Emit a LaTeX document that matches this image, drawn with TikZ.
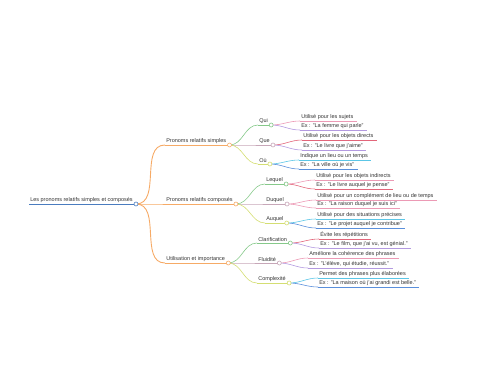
\documentclass[tikz,border=0pt]{standalone}
\usepackage{fontspec}
\setmainfont{Liberation Sans}
\definecolor{rootc}{HTML}{4A7CBF}
\definecolor{orangec}{HTML}{F6AA66}
\definecolor{greenc}{HTML}{86C98A}
\definecolor{mauvec}{HTML}{C7A7B8}
\definecolor{yellowc}{HTML}{D4DE72}
\definecolor{pinkc}{HTML}{EC9AB5}
\definecolor{redc}{HTML}{E2667A}
\definecolor{violetc}{HTML}{B39AE0}
\definecolor{cyanc}{HTML}{5CC6E6}
\definecolor{bluec}{HTML}{5A8FDB}
\begin{document}
\begin{tikzpicture}[x=1pt,y=-1pt,line width=0.6pt,
	txt/.style={inner sep=1pt,anchor=south west,text=black!80,font=\fontsize{5.5}{6}\selectfont},
	thick branch/.style={#1,line width=0.9pt}]
		\newcommand{\topic}[5]{\coordinate (#1-s) at (#2,#3); \node[txt] (#1-t) at (#1-s) {#5};
			\coordinate (#1) at ([xshift=2pt]#1-t.south east); \draw[#4] (#1-s)--(#1);}
		\newcommand{\link}[3]{\draw[#3] (#1) to[out=0,in=180] (#2-s);}
		\newcommand{\knob}[2]{\draw[#2,fill=white] (#1) circle (2);}
		
		\useasboundingbox (0,0) rectangle (480,384);
		
		\topic{root}{29}{204}{thick branch=rootc}{Les pronoms relatifs simples et composés}
		
		\topic{simp}{165}{145}{thick branch=orangec}{Pronoms relatifs simples}
		\topic{comp}{165}{204}{thick branch=orangec}{Pronoms relatifs composés}
		\topic{util}{165}{263}{thick branch=orangec}{Utilisation et importance}
		
		\topic{qui}   {258}{125}{greenc} {Qui}
		\topic{que}   {258}{145}{mauvec} {Que}
		\topic{ou}    {258}{164}{yellowc}{Où}
		\topic{lequel}{265}{184}{greenc} {Lequel}
		\topic{duquel}{265}{204}{mauvec} {Duquel}
		\topic{auquel}{265}{223}{yellowc}{Auquel}
		\topic{clar}  {257}{243}{greenc} {Clarification}
		\topic{flu}   {257}{263}{mauvec} {Fluidité}
		\topic{cpx}   {257}{283}{yellowc}{Complexité}
		
		\topic{qui-a}   {300}{121}{pinkc}  {Utilisé pour les sujets}
		\topic{qui-b}   {300}{130}{violetc}{Ex : "La femme qui parle"}
		\topic{que-a}   {302}{140}{redc}   {Utilisé pour les objets directs}
		\topic{que-b}   {302}{150}{violetc}{Ex : "Le livre que j'aime"}
		\topic{ou-a}    {299}{160}{cyanc}  {Indique un lieu ou un temps}
		\topic{ou-b}    {299}{169}{bluec}  {Ex : "La ville où je vis"}
		\topic{lequel-a}{315}{180}{pinkc}  {Utilisé pour les objets indirects}
		\topic{lequel-b}{315}{189}{redc}   {Ex : "Le livre auquel je pense"}
		\topic{duquel-a}{316}{200}{pinkc}  {Utilisé pour un complément de lieu ou de temps}
		\topic{duquel-b}{316}{208}{pinkc}  {Ex : "La raison duquel je suis ici"}
		\topic{auquel-a}{316}{219}{cyanc}  {Utilisé pour des situations précises}
		\topic{auquel-b}{316}{228}{bluec}  {Ex : "Le projet auquel je contribue"}
		\topic{clar-a}  {319}{239}{redc}   {Évite les répétitions}
		\topic{clar-b}  {319}{248}{violetc}{Ex : "Le film, que j'ai vu, est génial."}
		\topic{flu-a}   {308}{258}{pinkc}  {Améliore la cohérence des phrases}
		\topic{flu-b}   {308}{268}{violetc}{Ex : "L'élève, qui étudie, réussit."}
		\topic{cpx-a}   {318}{278}{cyanc}  {Permet des phrases plus élaborées}
		\topic{cpx-b}   {318}{287}{bluec}  {Ex : "La maison où j'ai grandi est belle."}
		
		\link{root}{simp}{thick branch=orangec} \link{root}{comp}{thick branch=orangec} \link{root}{util}{thick branch=orangec}
		
		\link{simp}{qui}{greenc} \link{simp}{que}{mauvec} \link{simp}{ou}{yellowc}
		\link{comp}{lequel}{greenc} \link{comp}{duquel}{mauvec} \link{comp}{auquel}{yellowc}
		\link{util}{clar}{greenc} \link{util}{flu}{mauvec} \link{util}{cpx}{yellowc}
		
		\link{qui}{qui-a}{pinkc} \link{qui}{qui-b}{violetc}
		\link{que}{que-a}{redc} \link{que}{que-b}{violetc}
		\link{ou}{ou-a}{cyanc} \link{ou}{ou-b}{bluec}
		\link{lequel}{lequel-a}{pinkc} \link{lequel}{lequel-b}{redc}
		\link{duquel}{duquel-a}{pinkc} \link{duquel}{duquel-b}{pinkc}
		\link{auquel}{auquel-a}{cyanc} \link{auquel}{auquel-b}{bluec}
		\link{clar}{clar-a}{redc} \link{clar}{clar-b}{violetc}
		\link{flu}{flu-a}{pinkc} \link{flu}{flu-b}{violetc}
		\link{cpx}{cpx-a}{cyanc} \link{cpx}{cpx-b}{bluec}
		
		\knob{root}{rootc}
		\knob{simp}{orangec} \knob{comp}{orangec} \knob{util}{orangec}
		\knob{qui}{greenc} \knob{que}{mauvec} \knob{ou}{yellowc}
		\knob{lequel}{greenc} \knob{duquel}{mauvec} \knob{auquel}{yellowc}
		\knob{clar}{greenc} \knob{flu}{mauvec} \knob{cpx}{yellowc}
	\end{tikzpicture}
\end{document}
